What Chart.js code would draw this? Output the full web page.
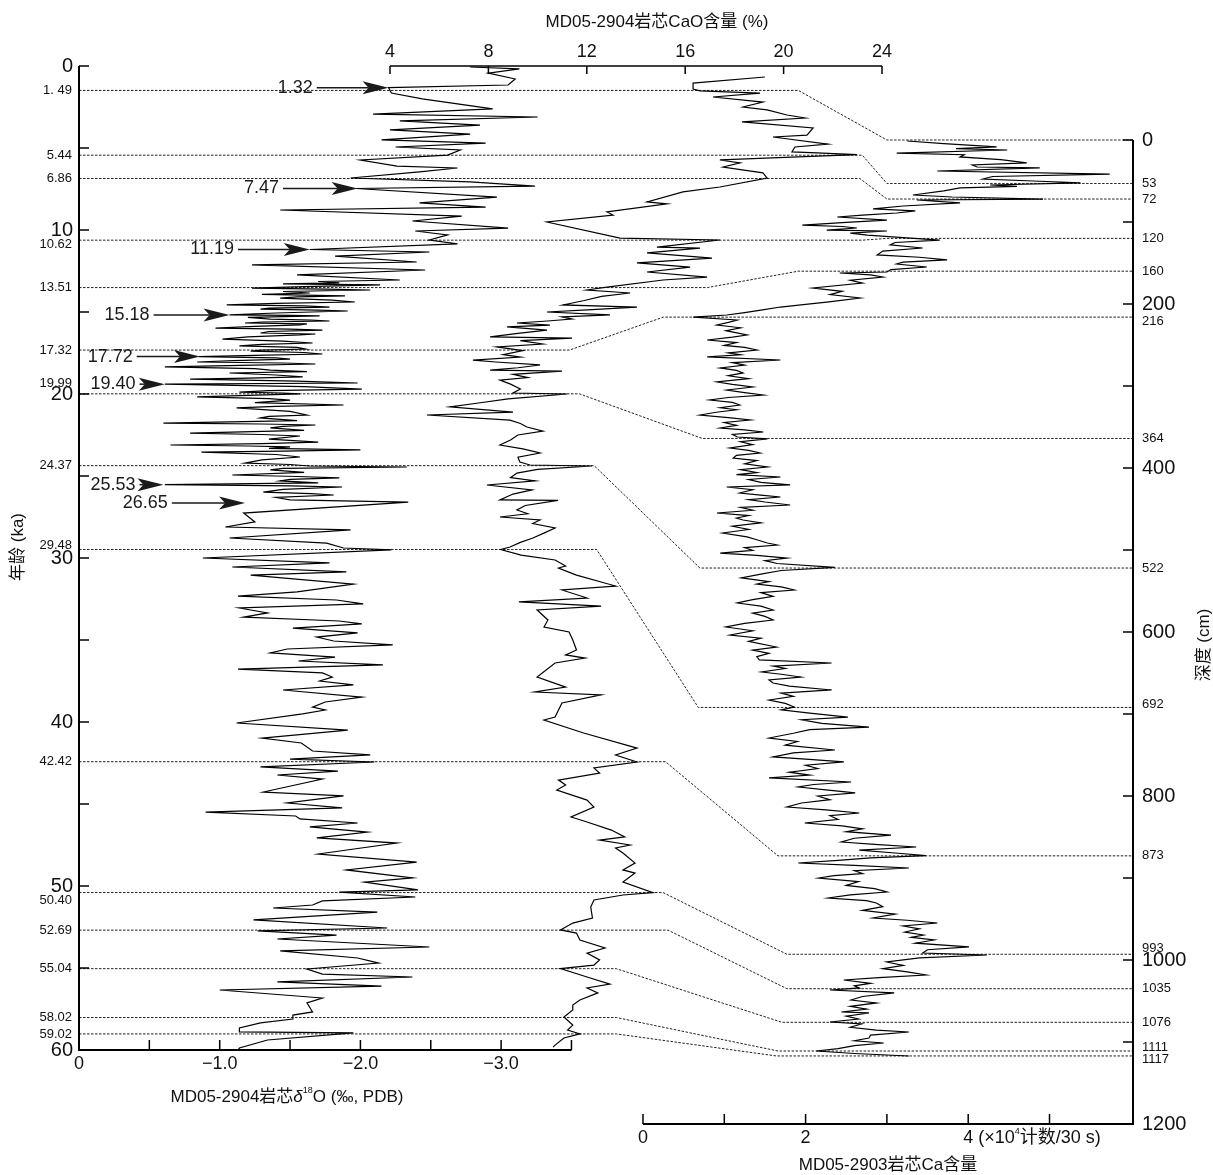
<!DOCTYPE html>
<html>
<head>
<meta charset="utf-8">
<script src="https://cdn.jsdelivr.net/npm/chart.js@4.4.0/dist/chart.umd.min.js"></script>
<style>
  html, body { margin: 0; padding: 0; background: #fff; }
  canvas { display: block; }
</style>
</head>
<body>
<canvas id="coreChart" width="1213" height="1175" style="width:1213px;height:1175px"></canvas>
<script>
// MD05-2904 oxygen isotope record (age ka, per mil PDB)
const d18oAge = [
  0.06,0.18,0.43,0.79,1.16,1.32,1.65,2.00,2.62,2.93,
  3.11,3.35,3.60,3.90,4.15,4.51,4.70,4.94,5.12,5.43,
  5.73,6.10,6.22,6.46,6.83,7.07,7.32,7.47,7.99,8.35,
  8.60,8.78,9.15,9.45,9.88,10.06,10.30,10.61,10.85,11.19,
  11.34,11.59,11.95,12.13,12.44,12.74,
  13.05,13.14,13.23,13.29,13.35,13.45,13.54,13.60,13.66,13.75,
  13.84,13.93,14.02,14.08,14.15,14.27,14.39,14.48,14.57,14.63,
  14.70,14.76,14.82,14.88,14.94,15.06,15.18,15.21,15.24,15.33,
  15.43,15.49,15.55,15.61,15.67,15.73,15.79,15.88,15.98,16.04,
  16.10,16.19,16.28,16.34,16.40,16.52,16.65,16.77,16.89,16.98,
  17.07,17.16,17.26,17.32,17.38,17.47,17.56,17.64,17.72,17.80,
  17.87,17.96,18.05,18.11,18.17,18.26,18.35,18.45,18.54,18.63,
  18.72,18.84,18.96,19.03,19.09,19.21,19.33,19.40,19.55,19.70,
  19.79,19.88,19.94,19.99,20.08,20.18,20.28,20.37,20.52,20.67,
  20.76,20.85,21.06,21.28,21.37,21.46,21.62,21.77,21.83,21.89,
  21.98,22.07,22.22,22.38,22.47,22.56,22.75,22.93,23.02,23.11,
  23.17,23.23,23.32,23.41,23.48,23.54,23.69,23.84,24.02,24.21,
  24.30,24.39,24.45,24.54,24.63,24.78,24.94,25.03,25.12,25.21,
  25.30,25.42,25.53,25.60,25.67,25.82,25.98,26.07,26.16,26.31,
  26.46,26.59,
  27.26,27.80,28.11,28.29,28.78,29.09,29.39,29.51,30.00,30.30,30.55,
  30.85,31.04,31.59,32.07,32.32,32.56,32.80,33.05,33.35,33.60,
  33.84,34.02,34.27,34.57,34.82,35.06,35.30,35.55,35.79,36.04,
  36.28,36.52,36.77,37.01,37.26,37.50,37.74,38.05,38.48,38.78,
  39.09,39.27,39.51,40.06,40.49,40.98,41.28,41.77,42.01,42.26,
  42.44,42.74,42.99,43.23,43.48,44.27,44.51,44.94,45.24,45.49,
  45.73,45.91,46.16,46.40,46.71,47.07,47.38,48.05,48.54,49.02,
  49.51,49.76,50.24,50.37,50.67,50.91,51.16,51.34,51.59,52.07,
  52.56,52.74,52.99,53.23,53.72,53.96,54.39,54.70,55.06,55.37,
  55.55,55.85,56.10,56.34,56.83,57.13,57.68,57.87,58.11,58.35,
  58.66,58.90,58.96,59.39,59.88,60.00
];
const d18oValue = [
  -2.78,-3.13,-2.91,-3.10,-3.05,-2.20,-2.22,-2.44,-2.94,-2.09,
  -3.26,-2.28,-2.85,-2.21,-2.78,-2.15,-2.89,-2.25,-2.71,-2.62,
  -2.00,-2.26,-2.69,-2.42,-1.93,-2.78,-3.24,-1.97,-2.97,-2.42,
  -2.89,-1.43,-2.72,-2.37,-3.05,-2.39,-2.62,-2.49,-2.69,-1.64,
  -2.49,-1.82,-2.40,-1.23,-2.46,-1.55,
  -2.28,-1.70,-1.85,-1.45,-2.14,-1.60,-1.23,-1.75,-2.07,-1.45,
  -1.64,-1.30,-1.89,-1.55,-1.43,-1.80,-1.96,-1.40,-1.05,-1.60,
  -1.78,-1.35,-1.29,-1.70,-1.91,-1.40,-1.07,-1.50,-1.71,-1.20,
  -1.36,-1.65,-1.78,-1.30,-1.18,-1.62,-1.57,-1.25,-0.97,-1.50,
  -1.73,-1.35,-1.29,-1.68,-1.57,-1.20,-1.02,-1.45,-1.66,-1.30,
  -1.14,-1.55,-1.61,-1.30,-1.22,-1.60,-1.73,-1.25,-0.85,-1.40,
  -1.50,-1.10,-0.84,-1.45,-1.68,-1.15,-0.61,-1.25,-1.36,-1.62,
  -1.07,-1.40,-1.59,-1.20,-0.79,-1.55,-1.98,-0.61,-1.60,-2.01,
  -1.35,-1.14,-1.45,-1.57,-1.20,-0.84,-1.35,-1.50,-1.25,-1.88,
  -1.40,-1.12,-1.50,-1.62,-1.35,-1.29,-1.55,-0.60,-1.30,-1.68,
  -1.45,-1.36,-1.60,-0.79,-1.30,-1.57,-1.35,-1.70,-1.30,-0.65,
  -1.20,-1.50,-1.35,-2.00,-1.45,-0.87,-1.40,-1.57,-1.30,-1.18,
  -1.50,-1.64,-2.33,-1.45,-1.36,-1.60,-1.09,-1.55,-1.85,-1.50,
  -1.43,-1.70,-0.61,-1.50,-1.87,-1.45,-1.31,-1.65,-1.81,-1.40,
  -1.50,-2.34,
  -1.17,-1.25,-1.04,-1.93,-1.07,-1.76,-1.88,-2.22,-0.88,-1.78,-1.09,
  -1.90,-1.22,-1.95,-1.55,-1.13,-1.83,-2.02,-1.14,-1.34,-1.17,
  -1.85,-2.01,-1.52,-1.98,-1.69,-1.81,-2.23,-1.48,-1.36,-1.82,
  -1.56,-2.16,-1.13,-1.73,-1.80,-1.71,-1.95,-1.45,-2.01,-1.75,
  -1.66,-1.75,-1.59,-1.12,-1.91,-1.30,-1.58,-1.66,-2.07,-1.50,
  -2.10,-1.29,-1.84,-1.41,-1.73,-1.31,-1.88,-1.48,-1.87,-0.90,
  -1.54,-1.57,-1.98,-1.64,-2.05,-1.69,-2.26,-1.70,-2.40,-1.90,
  -2.37,-2.03,-2.41,-1.85,-2.39,-1.73,-1.66,-1.38,-2.12,-1.24,
  -2.19,-1.27,-1.83,-1.41,-2.49,-1.43,-1.98,-2.13,-1.62,-1.73,
  -2.37,-1.41,-2.15,-1.00,-1.73,-1.62,-1.66,-1.52,-1.52,-1.29,
  -1.14,-1.14,-1.95,-1.34,-1.14,-1.13
];

// MD05-2904 CaO content (age ka, %)
const caoAge = [
  0.67,1.04,1.40,1.52,1.65,1.89,2.20,2.50,2.68,2.99,
  3.17,3.41,3.78,4.21,4.33,4.76,4.94,5.24,5.30,5.40,
  5.73,5.91,6.16,6.52,6.83,7.38,7.68,8.29,8.41,8.90,
  9.09,9.51,10.49,10.61,11.04,11.10,11.40,11.71,12.01,12.26,
  12.56,12.87,13.05,13.48,13.66,13.84,14.05,14.30,14.57,14.70,
  14.85,15.00,15.18,15.30,15.43,15.55,15.67,15.80,15.91,16.10,
  16.30,16.52,16.59,16.75,16.95,17.13,17.35,17.60,17.75,17.93,
  18.05,18.23,18.40,18.54,18.60,18.80,19.00,19.15,19.40,19.70,
  19.94,20.00,20.30,20.55,20.79,21.10,21.28,21.59,21.80,22.01,
  22.26,22.50,22.80,23.11,23.35,23.60,23.85,24.15,24.33,24.39,
  24.60,24.82,25.10,25.30,25.55,25.85,26.10,26.46,26.49,26.80,
  27.07,27.30,27.50,27.68,27.90,28.17,28.45,28.78,29.05,29.33,
  29.48,29.82,30.12,30.49,30.61,31.04,31.71,31.95,32.44,32.68,
  32.93,33.17,33.78,34.21,34.51,35.00,35.61,35.91,36.10,36.40,
  37.26,37.87,38.17,38.35,38.84,39.70,39.88,40.67,41.59,42.01,
  42.44,42.80,43.11,43.54,43.84,44.15,44.76,45.18,45.79,46.10,
  46.59,47.01,47.20,47.50,47.68,47.99,48.60,49.02,49.21,49.76,
  50.40,50.55,50.85,51.28,51.95,52.26,52.68,52.87,53.29,53.78,
  54.09,54.51,54.82,55.04,55.55,55.98,56.22,56.52,56.95,57.26,
  57.56,57.99,58.48,58.78,59.02,59.27,59.70,59.82
];
const caoValue = [
  19.24,16.32,16.32,16.60,19.04,17.13,19.16,18.35,19.33,20.14,
  20.87,18.31,21.20,20.95,19.57,21.80,20.46,20.34,21.36,22.98,
  17.41,18.23,17.54,19.16,19.33,17.41,15.91,14.45,15.26,12.82,
  13.07,10.38,13.35,17.41,14.85,16.60,14.45,17.09,14.04,16.20,
  14.45,16.89,15.10,12.82,12.00,13.76,12.60,11.90,11.03,14.04,
  12.20,10.38,12.94,11.00,11.40,10.40,9.16,10.50,8.76,10.38,
  9.20,8.07,11.40,9.30,10.20,8.35,9.40,8.60,9.30,7.37,
  8.30,10.10,9.20,8.07,10.99,9.00,9.60,8.47,8.90,9.30,
  9.00,11.20,8.80,7.60,6.44,9.00,5.50,8.88,9.30,9.57,
  10.22,9.20,8.90,8.47,9.40,10.10,9.20,9.28,9.69,12.21,
  10.00,9.16,8.90,9.90,7.94,9.77,9.00,8.47,10.83,9.50,
  9.16,9.60,8.47,10.10,9.80,10.71,10.30,9.81,9.30,8.88,
  8.50,9.33,10.71,11.14,10.85,11.58,13.17,10.99,12.01,9.24,
  12.58,9.98,10.42,10.26,11.28,11.43,11.58,11.14,11.93,10.71,
  9.98,11.14,9.89,12.58,10.99,10.71,10.26,11.87,14.04,13.17,
  14.04,12.29,12.52,10.85,11.14,10.78,12.01,12.29,11.36,12.01,
  13.00,13.54,12.52,13.76,13.17,13.47,13.96,13.47,13.96,13.47,
  14.69,13.47,12.29,12.16,12.23,11.43,10.93,11.58,11.72,12.74,
  12.01,12.52,12.29,10.93,12.01,12.94,12.01,12.45,11.72,11.43,
  11.43,11.07,11.43,11.22,11.72,11.07,10.71,10.63
];

// MD05-2903 Ca counts (depth cm, x10^4 counts / 30 s)
const caDepth = [
  1.2,4.5,8.5,10.5,12.2,15.9,18.0,20.7,24.0,28.0,
  30.5,32.9,34.1,37.8,41.5,44.5,47.6,50.0,52.4,54.9,
  56.5,58.5,62.0,67.1,69.5,72.0,73.2,76.8,80.5,84.1,
  86.5,89.0,91.5,93.9,97.6,100.5,103.7,105.5,107.3,109.8,
  111.0,113.5,115.9,119.0,122.0,125.0,128.0,131.7,135.5,140.2,
  143.0,146.3,149.0,151.2,154.9,158.0,161.0,162.2,164.5,167.1,
  171.0,174.5,180.5,184.5,188.5,192.7,197.6,200.5,203.7,207.5,
  210.5,213.4,215.9,219.5,222.5,225.6,229.0,232.5,237.8,240.5,
  243.9,247.0,250.5,253.0,256.1,259.5,262.0,264.6,268.3,271.5,
  274.5,278.0,281.0,284.1,287.5,291.0,295.1,298.0,301.2,304.9,
  308.0,311.0,314.0,317.1,320.0,323.2,326.5,329.0,332.0,335.4,
  338.5,341.5,344.5,348.0,351.2,353.5,356.1,359.0,362.2,364.6,
  368.0,371.5,375.6,378.5,381.7,384.5,387.8,391.0,395.0,398.8,
  402.0,405.5,408.0,411.0,414.0,417.5,420.7,423.2,426.5,430.5,
  433.0,435.4,438.5,441.5,445.1,448.0,451.5,454.9,458.0,461.0,
  463.4,467.0,471.0,475.0,479.3,484.1,487.5,491.5,493.9,497.0,
  500.5,503.7,506.5,509.8,513.0,516.5,521.3,525.0,529.5,534.1,
  538.5,541.5,545.0,548.8,552.0,556.5,560.5,564.6,568.5,573.2,
  577.0,581.0,585.4,589.5,593.9,598.5,603.7,607.5,611.5,618.3,
  622.0,626.0,630.0,634.1,637.8,641.5,644.5,648.8,651.5,654.9,
  658.5,662.2,666.0,670.7,674.5,678.5,682.9,687.0,691.5,695.0,
  699.0,703.7,707.0,711.5,715.9,719.0,723.5,729.3,733.5,738.0,
  743.9,747.5,752.4,755.0,758.5,762.5,766.5,771.0,774.5,778.0,
  782.9,786.0,789.0,792.5,796.3,800.0,804.5,808.5,813.4,817.0,
  820.7,824.0,828.5,832.9,836.5,840.0,843.5,847.6,851.5,856.1,
  859.0,862.2,865.9,869.5,872.6,875.5,878.5,881.7,884.5,887.8,
  891.0,894.5,897.0,900.0,904.5,909.0,913.0,917.1,920.5,924.4,
  927.5,930.5,935.0,939.5,944.0,948.8,951.5,954.9,958.5,962.0,
  965.9,969.5,972.5,975.6,979.5,984.1,987.5,991.5,993.9,997.5,
  1002.4,1006.5,1010.5,1014.5,1018.3,1021.5,1024.4,1028.5,1031.5,1034.1,
  1036.6,1040.2,1044.5,1048.8,1052.4,1056.5,1060.0,1063.4,1064.6,1068.5,
  1072.0,1075.6,1078.0,1082.0,1085.4,1087.8,1091.5,1095.1,1098.5,1101.2,
  1104.5,1108.0,1111.0,1114.0,1117.1
];
const caValue = [
  3.25,3.70,4.35,3.85,4.48,3.12,3.95,3.90,4.40,4.72,
  4.05,4.11,4.88,3.62,5.74,4.30,4.18,4.80,5.38,4.27,
  4.60,3.90,3.70,3.32,3.80,4.92,3.37,3.90,3.20,2.83,
  3.35,3.12,2.70,2.39,3.00,2.50,1.96,2.45,2.63,2.26,
  3.00,2.55,2.76,3.20,3.65,3.10,3.04,3.44,2.95,2.88,
  3.40,3.74,3.20,3.12,3.49,3.05,3.00,2.42,2.80,2.95,
  2.55,2.70,2.09,2.45,2.30,2.67,2.26,2.00,1.69,1.45,
  1.25,1.03,0.62,1.16,1.05,0.91,1.20,1.02,1.28,1.10,
  0.79,1.15,1.00,1.25,1.40,1.05,1.20,0.79,1.69,1.10,
  1.25,0.95,1.15,1.23,1.05,1.30,0.91,1.10,1.35,1.03,
  1.25,1.48,1.05,0.82,1.10,1.19,0.95,1.15,0.90,0.70,
  1.05,1.32,1.00,1.15,0.95,1.25,1.48,1.10,1.16,1.53,
  1.20,1.35,1.07,1.30,1.44,1.15,1.11,1.40,1.25,1.53,
  1.20,1.40,1.15,1.69,1.30,1.45,1.81,1.03,1.35,1.19,
  1.45,1.69,1.30,1.50,1.81,1.20,1.35,0.91,1.30,1.15,
  1.23,1.45,1.10,1.30,0.98,1.28,1.40,1.53,1.65,1.25,
  1.35,0.95,1.40,1.77,1.50,1.65,2.36,1.70,1.45,1.21,
  1.55,1.40,1.70,1.86,1.45,1.60,1.35,1.16,1.45,1.60,
  1.35,1.50,1.60,1.25,1.02,1.35,1.07,1.45,1.30,1.64,
  1.35,1.55,1.40,1.43,2.32,1.60,1.75,1.46,1.70,1.94,
  1.55,1.60,1.80,2.32,1.70,1.85,1.55,1.75,1.86,1.70,
  2.05,2.52,1.95,2.20,2.78,2.05,1.85,1.55,1.90,1.75,
  2.36,1.85,1.60,2.00,2.47,2.00,2.15,1.80,2.05,1.55,
  2.56,2.10,1.91,2.25,2.61,2.15,2.30,1.95,1.77,2.25,
  2.66,2.30,2.40,1.99,2.45,2.70,2.50,3.05,2.60,2.44,
  2.85,3.36,2.66,3.10,3.48,2.80,2.40,1.91,2.60,3.27,
  2.60,2.70,2.35,2.16,2.65,2.50,2.85,3.00,2.55,2.28,
  2.75,2.87,2.95,2.70,3.10,2.83,3.25,3.62,3.20,3.40,
  3.22,3.45,3.30,3.58,3.35,4.01,3.50,3.44,4.23,3.40,
  3.00,3.20,2.95,3.25,3.48,2.90,2.47,2.80,2.60,2.66,
  2.30,3.09,2.70,2.56,2.87,2.55,2.75,2.44,2.78,2.50,
  2.65,2.30,2.69,2.55,2.87,3.27,2.80,2.78,2.60,2.96,
  2.60,2.40,2.13,2.60,3.27
];

// tie points between the two cores
const eventAges = [1.49,5.44,6.86,10.62,13.51,17.32,19.99,24.37,29.48,42.42,50.40,52.69,55.04,58.02,59.02];
const eventAgeLabels = ['1. 49','5.44','6.86','10.62','13.51','17.32','19.99','24.37','29.48','42.42','50.40','52.69','55.04','58.02','59.02'];
const eventDepths = [0,53,72,120,160,216,364,522,692,873,993,1035,1076,1111,1117];
const eventBreakCaO = [20.6,23.2,23.1,23.2,16.9,11.3,11.7,12.3,12.4,15.2,15.1,15.3,13.2,13.2,13.2];
const eventJoinCa = [3.0,3.0,3.0,3.0,1.91,0.25,0.73,0.70,0.68,1.66,1.77,1.77,1.71,1.66,1.64];

// arrowed ages on the oxygen isotope curve
const arrowAges = [1.32,7.47,11.19,15.18,17.72,19.40,25.53,26.65];
const arrowTip = [-2.20,-1.98,-1.64,-1.07,-0.86,-0.61,-0.60,-1.18];
const arrowTail = [-1.69,-1.45,-1.13,-0.53,-0.41,-0.43,-0.43,-0.66];

// axis ticks
const ageTicks = [0,5,10,15,20,25,30,35,40,45,50,55,60];
const ageTickLabels = ['0','','10','','20','','30','','40','','50','','60'];
const d18oTicks = [0,-0.5,-1,-1.5,-2,-2.5,-3,-3.5];
const d18oTickLabels = ['0','','\u22121.0','','\u22122.0','','\u22123.0',''];
const caoTicks = [4,8,12,16,20,24];
const caTicks = [0,1,2,3,4,5];
const caTickLabels = ['0','','2','','4',''];
const depthTicks = [0,100,200,300,400,500,600,700,800,900,1000,1100,1200];
const depthTickLabels = ['0','','200','','400','','600','','800','','1000','','1200'];

const FONT = '"Liberation Sans", Arial, "Noto Sans CJK SC", sans-serif';
const f = (px, style) => (style ? style + ' ' : '') + px + 'px ' + FONT;

// small vertical nudges so crowded labels don't overlap
const ageLabelShift = { '10.62': 4, '19.99': -10, '29.48': -4, '50.40': 8 };
const depthLabelShift = { 216: 4, 692: -3, 993: -6, 1111: -4, 1117: 3 };

function richText(ctx, parts, x, y, align) {
  let total = 0;
  parts.forEach(p => { ctx.font = p.f; total += ctx.measureText(p.t).width; });
  let cx = align === 'center' ? x - total / 2 : x;
  ctx.textAlign = 'left';
  parts.forEach(p => {
    ctx.font = p.f;
    ctx.fillText(p.t, cx, y + (p.dy || 0));
    cx += ctx.measureText(p.t).width;
  });
}

const overlay = {
  id: 'overlay',
  beforeDatasetsDraw(chart) {
    const { ctx, chartArea, scales } = chart;
    const { xO, xCaO, xCa, yAge, yDepth } = scales;
    ctx.save();
    ctx.strokeStyle = '#222';
    ctx.lineWidth = 1;
    ctx.setLineDash([2.5, 1.5]);
    eventAges.forEach((age, i) => {
      const y1 = yAge.getPixelForValue(age);
      const y2 = yDepth.getPixelForValue(eventDepths[i]);
      ctx.beginPath();
      ctx.moveTo(xO.getPixelForValue(0), y1);
      ctx.lineTo(xCaO.getPixelForValue(eventBreakCaO[i]), y1);
      ctx.lineTo(xCa.getPixelForValue(eventJoinCa[i]), y2);
      ctx.lineTo(chartArea.right, y2);
      ctx.stroke();
    });
    ctx.restore();
  },
  afterDraw(chart) {
    const { ctx, chartArea, scales } = chart;
    const { xO, xCaO, xCa, yAge, yDepth } = scales;
    ctx.save();
    ctx.strokeStyle = '#000';
    ctx.fillStyle = '#111';
    ctx.textBaseline = 'middle';

    // left age axis
    const ax = xO.getPixelForValue(0);
    ctx.lineWidth = 2;
    ctx.beginPath();
    ctx.moveTo(ax, yAge.getPixelForValue(0));
    ctx.lineTo(ax, yAge.getPixelForValue(60));
    ctx.stroke();
    ctx.lineWidth = 1.5;
    ctx.textAlign = 'right';
    ctx.font = f(20);
    ageTicks.forEach((v, i) => {
      const y = yAge.getPixelForValue(v);
      ctx.beginPath(); ctx.moveTo(ax, y); ctx.lineTo(ax + 10, y); ctx.stroke();
      if (ageTickLabels[i]) ctx.fillText(ageTickLabels[i], ax - 6, y);
    });
    ctx.font = f(13);
    eventAges.forEach((v, i) => {
      const lab = eventAgeLabels[i];
      ctx.fillText(lab, ax - 7, yAge.getPixelForValue(v) + (ageLabelShift[lab] || 0));
    });

    // bottom oxygen isotope axis
    const by = yAge.getPixelForValue(60);
    ctx.lineWidth = 2;
    ctx.beginPath();
    ctx.moveTo(ax - 1, by);
    ctx.lineTo(xO.getPixelForValue(-3.5), by);
    ctx.stroke();
    ctx.lineWidth = 1.5;
    ctx.textAlign = 'center';
    ctx.font = f(18);
    d18oTicks.forEach((v, i) => {
      const x = xO.getPixelForValue(v);
      ctx.beginPath(); ctx.moveTo(x, by); ctx.lineTo(x, by - 10); ctx.stroke();
      if (d18oTickLabels[i]) ctx.fillText(d18oTickLabels[i], x, by + 14);
    });
    richText(ctx, [
      { t: 'MD05-2904岩芯', f: f(17) },
      { t: 'δ', f: f(17, 'italic') },
      { t: '18', f: f(9), dy: -6 },
      { t: 'O (‰, PDB)', f: f(17) }
    ], 287, 1097, 'center');

    // top CaO axis
    const ty = yAge.getPixelForValue(0);
    ctx.lineWidth = 1.5;
    ctx.beginPath();
    ctx.moveTo(xCaO.getPixelForValue(4), ty);
    ctx.lineTo(xCaO.getPixelForValue(24), ty);
    ctx.stroke();
    ctx.textAlign = 'center';
    ctx.font = f(18);
    caoTicks.forEach(v => {
      const x = xCaO.getPixelForValue(v);
      ctx.beginPath(); ctx.moveTo(x, ty); ctx.lineTo(x, ty + 8); ctx.stroke();
      ctx.fillText(String(v), x, ty - 14);
    });
    ctx.font = f(17);
    ctx.fillText('MD05-2904岩芯CaO含量 (%)', 657, 22);

    // right depth axis
    const rx = chartArea.right;
    ctx.lineWidth = 2;
    ctx.beginPath();
    ctx.moveTo(rx, yDepth.getPixelForValue(0));
    ctx.lineTo(rx, yDepth.getPixelForValue(1200));
    ctx.stroke();
    ctx.lineWidth = 1.5;
    ctx.textAlign = 'left';
    ctx.font = f(20);
    depthTicks.forEach((v, i) => {
      const y = yDepth.getPixelForValue(v);
      ctx.beginPath(); ctx.moveTo(rx, y); ctx.lineTo(rx - 10, y); ctx.stroke();
      if (depthTickLabels[i]) ctx.fillText(depthTickLabels[i], rx + 9, y);
    });
    ctx.font = f(13);
    eventDepths.forEach(v => {
      if (v === 0) return;
      ctx.fillText(String(v), rx + 9, yDepth.getPixelForValue(v) + (depthLabelShift[v] || 0));
    });

    // bottom Ca axis
    const cy = yDepth.getPixelForValue(1200);
    ctx.lineWidth = 2;
    ctx.beginPath();
    ctx.moveTo(xCa.getPixelForValue(0), cy);
    ctx.lineTo(rx + 1, cy);
    ctx.stroke();
    ctx.lineWidth = 1.5;
    caTicks.forEach((v, i) => {
      const x = xCa.getPixelForValue(v);
      ctx.beginPath(); ctx.moveTo(x, cy); ctx.lineTo(x, cy - 10); ctx.stroke();
      if (caTickLabels[i]) {
        ctx.font = f(18);
        ctx.textAlign = 'center';
        ctx.fillText(caTickLabels[i], x, cy + 14);
      }
    });
    richText(ctx, [
      { t: ' (×10', f: f(18) },
      { t: '4', f: f(9), dy: -6 },
      { t: '计数/30 s)', f: f(18) }
    ], xCa.getPixelForValue(4) + 5, cy + 14, 'left');
    ctx.textAlign = 'center';
    ctx.font = f(17);
    ctx.fillText('MD05-2903岩芯Ca含量', 888, 1165);

    // side titles
    ctx.save();
    ctx.translate(18, 547);
    ctx.rotate(-Math.PI / 2);
    ctx.font = f(17);
    ctx.fillText('年龄 (ka)', 0, 0);
    ctx.restore();
    ctx.save();
    ctx.translate(1204, 645);
    ctx.rotate(-Math.PI / 2);
    ctx.font = f(17);
    ctx.fillText('深度 (cm)', 0, 0);
    ctx.restore();

    // arrows
    ctx.lineWidth = 1.5;
    ctx.fillStyle = '#1a1a1a';
    ctx.strokeStyle = '#1a1a1a';
    arrowAges.forEach((age, i) => {
      const y = yAge.getPixelForValue(age);
      const xt = xO.getPixelForValue(arrowTip[i]);
      const xs = xO.getPixelForValue(arrowTail[i]);
      ctx.beginPath(); ctx.moveTo(xs, y); ctx.lineTo(xt - 20, y); ctx.stroke();
      ctx.beginPath();
      ctx.moveTo(xt, y);
      ctx.lineTo(xt - 26, y - 6.5);
      ctx.lineTo(xt - 20, y);
      ctx.lineTo(xt - 26, y + 6.5);
      ctx.closePath();
      ctx.fill();
      ctx.font = f(18);
      ctx.textAlign = 'right';
      ctx.fillText(age.toFixed(2), xs - 4, y);
    });
    ctx.restore();
  }
};

const line = (ages, vals, xAxisID, yAxisID) => ({
  data: ages.map((a, i) => ({ x: vals[i], y: a })),
  xAxisID, yAxisID,
  showLine: true,
  borderColor: '#000',
  borderWidth: 1.2,
  pointRadius: 0,
  tension: 0
});

new Chart(document.getElementById('coreChart'), {
  type: 'scatter',
  data: {
    datasets: [
      line(d18oAge, d18oValue, 'xO', 'yAge'),
      line(caoAge, caoValue, 'xCaO', 'yAge'),
      line(caDepth, caValue, 'xCa', 'yDepth')
    ]
  },
  options: {
    responsive: false,
    animation: false,
    devicePixelRatio: 1,
    layout: { padding: { left: 79, right: 80, top: 66, bottom: 51 } },
    plugins: { legend: { display: false }, tooltip: { enabled: false } },
    scales: {
      xO: { type: 'linear', display: false, min: -7.491, max: 0, reverse: true },
      xCaO: { type: 'linear', display: false, min: -8.642, max: 34.203 },
      xCa: { type: 'linear', display: false, min: -6.937, max: 6.027 },
      yAge: { type: 'linear', display: false, min: 0, max: 64.512, reverse: true },
      yDepth: { type: 'linear', display: false, min: -90.24, max: 1200, reverse: true }
    }
  },
  plugins: [overlay]
});
</script>
</body>
</html>
